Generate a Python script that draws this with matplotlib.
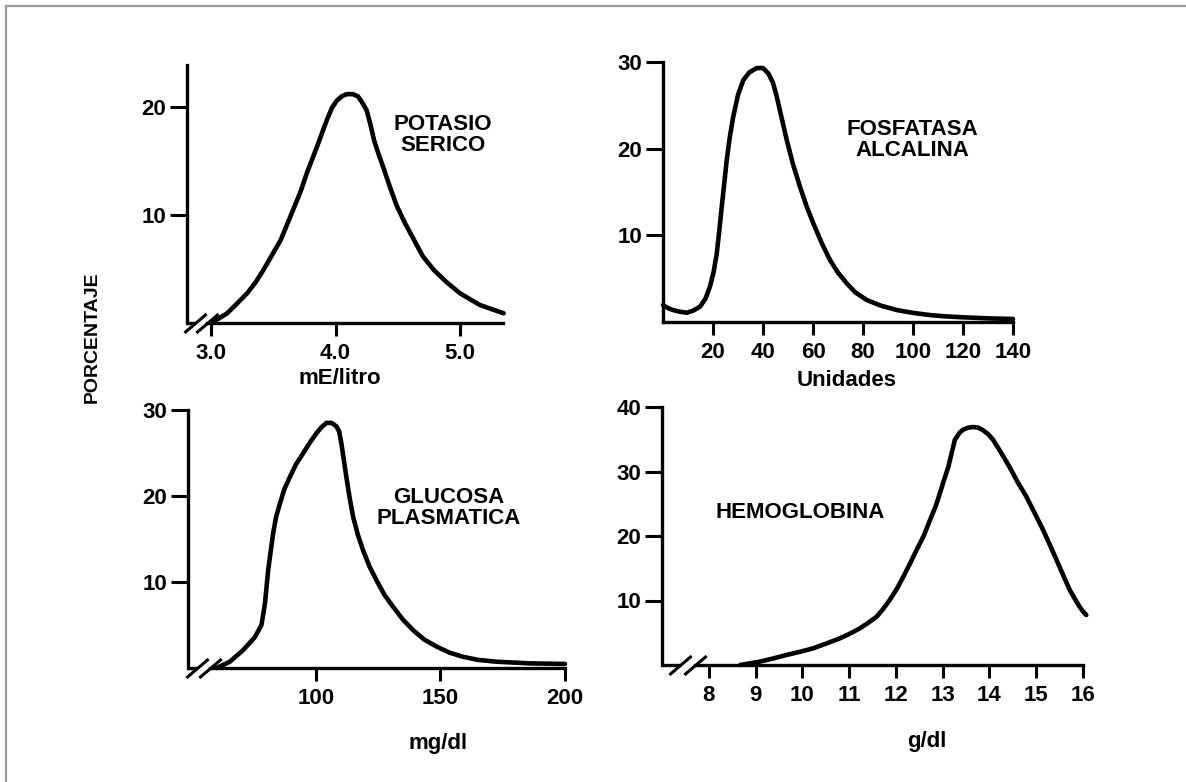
import matplotlib
matplotlib.use("Agg")
import matplotlib.pyplot as plt
from matplotlib.lines import Line2D

plt.rcParams["font.family"] = ["Liberation Sans", "DejaVu Sans"]
plt.rcParams["font.weight"] = "bold"

# ─────────────────────────────────────────────
# DATA
# ─────────────────────────────────────────────
potasio_x = [3.00, 3.06, 3.13, 3.20, 3.29, 3.36, 3.42, 3.49, 3.56, 3.61, 3.66, 3.72,
             3.77, 3.85, 3.93, 3.97, 4.01, 4.05, 4.09, 4.14, 4.18, 4.21, 4.25, 4.28,
             4.31, 4.35, 4.39, 4.44, 4.49, 4.56, 4.63, 4.70, 4.79, 4.90, 5.00, 5.08,
             5.16, 5.25, 5.35]
potasio_y = [0.0, 0.4, 0.9, 1.7, 2.75, 3.8, 4.9, 6.3, 7.7, 9.1, 10.5, 12.2,
             13.9, 16.3, 18.8, 19.9, 20.6, 21.0, 21.2, 21.2, 21.0, 20.5, 19.7, 18.4,
             16.9, 15.5, 14.2, 12.5, 10.9, 9.2, 7.7, 6.2, 4.9, 3.7, 2.75, 2.2,
             1.67, 1.3, 0.9]
potasio_xticks = [3.0, 4.0, 5.0]
potasio_yticks = [10, 20]

fosfatasa_x = [0, 2, 4, 6.5, 9.5, 12, 14.8, 17, 18.8, 20.2, 21.5, 22.5, 23.5, 24.5,
               25.5, 26.7, 28.1, 30, 32.1, 34.5, 37.5, 40, 42.1, 44, 45.5, 47.5,
               49.5, 52, 54.8, 57.5, 60.1, 63.5, 66.8, 70, 73.5, 77, 81.5, 87,
               93.5, 100, 106.8, 113, 120.1, 130, 140]
fosfatasa_y = [1.96, 1.6, 1.38, 1.2, 1.07, 1.3, 1.77, 2.7, 4.1, 5.7, 7.9, 10.5, 13.3, 16.0,
               18.7, 21.3, 23.7, 26.2, 27.9, 28.8, 29.3, 29.3, 28.7, 27.6, 26.0, 23.5,
               21.0, 18.2, 15.6, 13.3, 11.4, 9.1, 7.15, 5.7, 4.46, 3.4, 2.54, 1.9,
               1.38, 1.05, 0.8, 0.65, 0.54, 0.42, 0.35]
fosfatasa_xticks = [20, 40, 60, 80, 100, 120, 140]
fosfatasa_yticks = [10, 20, 30]

glucosa_x = [60.1, 65.4, 70.8, 75.5, 78.1, 79.5, 80.8, 82.8, 84.0, 85.5, 87.3, 89.5,
             92.0, 94.9, 97.5, 100.2, 102.2, 104.2, 106.3, 108.2, 109.3, 110.2, 112.2,
             113.5, 114.9, 116.8, 118.9, 121.5, 124.3, 127.5, 131.0, 135.0, 139.0,
             143.5, 148.4, 153.5, 159.1, 165.0, 172.5, 185.9, 200]
glucosa_y = [0.0, 0.73, 2.1, 3.6, 5.0, 7.5, 11.4, 15.7, 17.6, 19.1, 20.8, 22.2,
             23.7, 25.0, 26.2, 27.3, 28.0, 28.5, 28.5, 28.1, 27.5, 26.1, 22.2,
             19.8, 17.6, 15.5, 13.7, 11.8, 10.2, 8.5, 7.1, 5.6, 4.4,
             3.3, 2.5, 1.8, 1.3, 0.95, 0.73, 0.54, 0.47]
glucosa_xticks = [100, 150, 200]
glucosa_yticks = [10, 20, 30]

hemo_x = [8.67, 9.09, 9.37, 9.66, 9.95, 10.23, 10.50, 10.80, 11.00, 11.23, 11.40, 11.59,
          11.73, 11.87, 12.02, 12.16, 12.30, 12.44, 12.60, 12.73, 12.85, 12.94, 13.03,
          13.12, 13.19, 13.26, 13.36, 13.44, 13.55, 13.65, 13.76, 13.86, 13.97, 14.08,
          14.25, 14.43, 14.60, 14.79, 14.97, 15.15, 15.33, 15.50, 15.62, 15.72, 15.83,
          15.93, 16.00, 16.07]
hemo_y = [0.0, 0.52, 1.0, 1.55, 2.05, 2.58, 3.3, 4.13, 4.8, 5.68, 6.5, 7.5,
          8.7, 10.1, 11.8, 13.7, 15.7, 17.8, 20.1, 22.5, 24.6, 26.6, 28.7,
          30.7, 32.8, 34.9, 36.0, 36.5, 36.8, 36.9, 36.8, 36.4, 35.8, 34.9,
          32.9, 30.7, 28.4, 26.1, 23.5, 20.9, 18.0, 15.2, 13.2, 11.6, 10.2,
          9.0, 8.3, 7.75]
hemo_xticks = [8, 9, 10, 11, 12, 13, 14, 15, 16]
hemo_yticks = [10, 20, 30, 40]

# ─────────────────────────────────────────────
# FIGURE
# ─────────────────────────────────────────────
W, H = 1186, 782
fig = plt.figure(figsize=(W / 100, H / 100), dpi=100)
fig.patch.set_facecolor("white")

LW_AX = 2.4
LW_CURVE = 3.3
FS = 16


def px_axes(left, right, bottom, top):
    # axes rectangle from pixel edges (y measured from the top)
    return fig.add_axes([left / W, 1 - bottom / H, (right - left) / W, (bottom - top) / H])


def style(ax, xlim, ylim, xticks, yticks, xfmt=None):
    ax.set_xlim(*xlim)
    ax.set_ylim(*ylim)
    ax.set_facecolor("none")
    for s in ["top", "right"]:
        ax.spines[s].set_visible(False)
    for s in ["left", "bottom"]:
        ax.spines[s].set_linewidth(LW_AX)
    ax.set_xticks(xticks)
    ax.set_yticks(yticks)
    if xfmt:
        ax.set_xticklabels([xfmt.format(v) for v in xticks])
    ax.tick_params(axis="x", direction="out", length=9.5, width=2.2, pad=5, labelsize=FS)
    ax.tick_params(axis="y", direction="out", length=12, width=2.2, pad=3, labelsize=FS)
    for lab in ax.get_xticklabels() + ax.get_yticklabels():
        lab.set_fontweight("bold")


def axis_break(ax, x1, x2):
    xmin = ax.get_xlim()[0]
    ax.spines["bottom"].set_bounds(x2, ax.get_xlim()[1])
    ax.plot([xmin, x1], [0, 0], color="k", lw=LW_AX, clip_on=False, solid_capstyle="butt")
    ax.plot([x1, x2], [0, 0], ls="none", marker=[(-1, -0.85), (1, 0.85)], ms=16,
            mew=2.2, mec="k", mfc="none", clip_on=False)


def curve(ax, x, y):
    ax.plot(x, y, color="k", lw=LW_CURVE, solid_capstyle="round",
            solid_joinstyle="round", clip_on=False)


# Potasio serico
ax1 = px_axes(187, 503, 323, 65)
curve(ax1, potasio_x, potasio_y)
style(ax1, (2.807, 5.345), (0, 23.9), potasio_xticks, potasio_yticks, "{:.1f}")
axis_break(ax1, 2.87, 2.97)

# Fosfatasa alcalina
ax2 = px_axes(663, 1013, 322, 62)
curve(ax2, fosfatasa_x, fosfatasa_y)
style(ax2, (0, 140), (0, 30), fosfatasa_xticks, fosfatasa_yticks)

# Glucosa plasmatica
ax3 = px_axes(188, 565, 668, 410)
curve(ax3, glucosa_x, glucosa_y)
style(ax3, (48.6, 200), (0, 30), glucosa_xticks, glucosa_yticks)
axis_break(ax3, 52.2, 57.4)

# Hemoglobina
ax4 = px_axes(662, 1083, 665, 407)
curve(ax4, hemo_x, hemo_y)
style(ax4, (7, 16), (0, 40), hemo_xticks, hemo_yticks)
axis_break(ax4, 7.38, 7.70)

# ─────────────────────────────────────────────
# TEXT
# ─────────────────────────────────────────────
def ftext(x, y, s, **kw):
    fig.text(x / W, 1 - y / H, s, ha="center", va="center", fontsize=FS,
             fontweight="bold", linespacing=0.95, **kw)


ftext(443, 135, "POTASIO\nSERICO")
ftext(912, 140, "FOSFATASA\nALCALINA")
ftext(449, 508, "GLUCOSA\nPLASMATICA")
ftext(800, 513, "HEMOGLOBINA")

ftext(340, 378, "mE/litro")
ftext(847, 381, "Unidades")
ftext(438, 743, "mg/dl")
ftext(927, 741, "g/dl")

fig.text(92 / W, 1 - 337 / H, "PORCENTAJE", rotation=90, ha="center", va="center",
         fontsize=14, fontweight="bold")

# grey frame of the scan (left and top edges)
fig.add_artist(Line2D([6 / W, 6 / W], [0, 1 - 6 / H], transform=fig.transFigure,
                      color="#9a9a9a", lw=1.6))
fig.add_artist(Line2D([6 / W, 1], [1 - 6 / H, 1 - 6 / H], transform=fig.transFigure,
                      color="#9a9a9a", lw=1.6))

fig.savefig("out.png", dpi=100, facecolor="white")
